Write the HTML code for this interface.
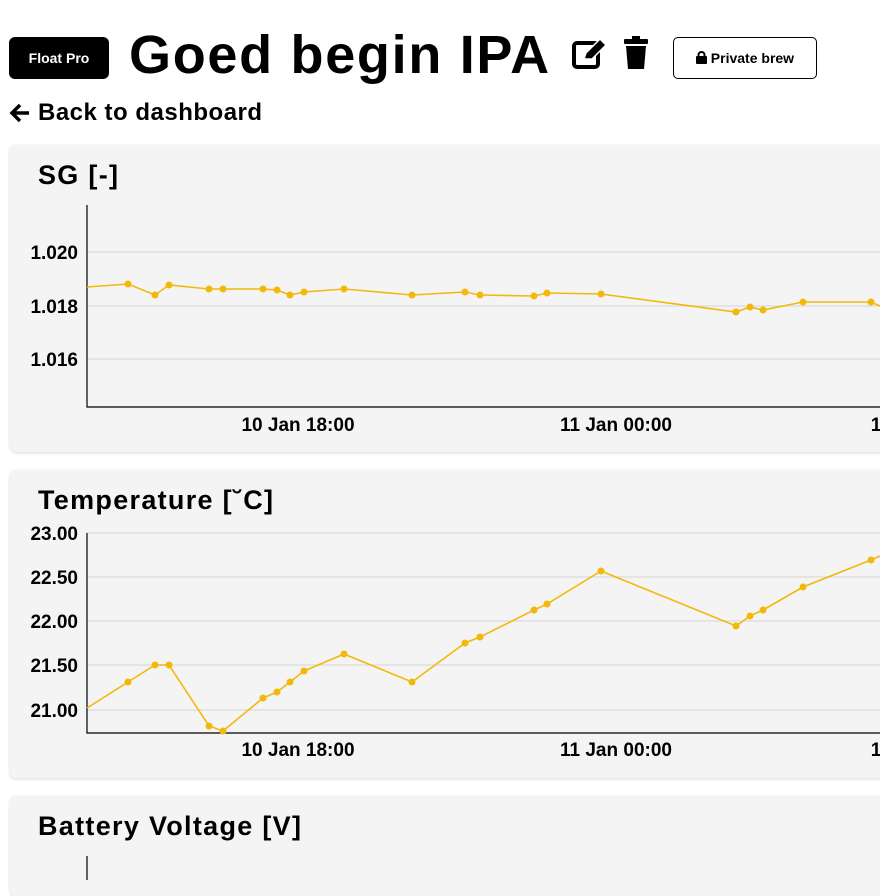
<!DOCTYPE html>
<html><head><meta charset="utf-8"><style>
body{margin:0;width:880px;height:880px;overflow:hidden;background:#fff;font-family:"Liberation Sans",sans-serif;position:relative}
.abs{position:absolute}
.card{position:absolute;left:10px;width:890px;background:#f4f4f4;border-radius:6px;box-shadow:0 1px 3px rgba(0,0,0,.15)}
.ttl{position:absolute;left:38px;font-size:27px;font-weight:bold;letter-spacing:1.3px}
</style></head><body>
<div class="abs" style="left:9px;top:37px;width:100px;height:42px;background:#000;border-radius:6px;color:#fff;font-size:14px;font-weight:bold;line-height:42px;text-align:center">Float Pro</div>
<div class="abs" style="left:129px;top:24px;font-size:54px;font-weight:bold;letter-spacing:1.7px">Goed begin IPA</div>
<svg class="abs" style="left:572px;top:37px" width="36" height="34" viewBox="0 0 36 34"><rect x="2" y="6" width="24" height="24" rx="3" fill="none" stroke="#000" stroke-width="4"/><path d="M12 22 L14 16 L28 2 L34 8 L20 22 Z" fill="#000" stroke="#fff" stroke-width="1.5"/></svg>
<svg class="abs" style="left:622px;top:36px" width="28" height="34" viewBox="0 0 28 34"><rect x="2" y="3" width="24" height="5" rx="1" fill="#000"/><rect x="10" y="0" width="8" height="4" fill="#000"/><path d="M4 10 H24 L22 33 H6 Z" fill="#000"/></svg>
<div class="abs" style="left:673px;top:37px;width:142px;height:40px;border:1px solid #000;border-radius:5px;font-size:14px;font-weight:bold;line-height:40px;text-align:center"><svg width="11" height="13" viewBox="0 0 11 13" style="vertical-align:-1px"><rect x="0" y="5" width="11" height="8" rx="1" fill="#000"/><path d="M2.5 5.5V4a3 3 0 0 1 6 0v1.5" fill="none" stroke="#000" stroke-width="2"/></svg> Private brew</div>
<svg class="abs" style="left:9px;top:103px" width="22" height="20" viewBox="0 0 22 20"><path d="M20 10H4M11 2L3 10L11 18" fill="none" stroke="#000" stroke-width="3.5"/></svg>
<div class="abs" style="left:38px;top:99px;font-size:24px;font-weight:bold;letter-spacing:0.5px">Back to dashboard</div>

<div class="card" style="top:145px;height:307px"></div>
<div class="card" style="top:470px;height:308px"></div>
<div class="card" style="top:796px;height:100px"></div>
<div class="ttl" style="top:160px">SG [-]</div>
<div class="ttl" style="top:485px">Temperature [˘C]</div>
<div class="ttl" style="top:811px">Battery Voltage [V]</div>

<svg class="abs" style="left:0;top:0" width="880" height="880">
<g stroke="#dedede" stroke-width="1.5"><line x1="87" x2="880" y1="252" y2="252"/><line x1="87" x2="880" y1="306" y2="306"/><line x1="87" x2="880" y1="359" y2="359"/>
<line x1="87" x2="880" y1="533" y2="533"/><line x1="87" x2="880" y1="577" y2="577"/><line x1="87" x2="880" y1="621" y2="621"/><line x1="87" x2="880" y1="665" y2="665"/><line x1="87" x2="880" y1="710" y2="710"/></g>
<g stroke="#000" stroke-width="1.2" fill="none"><path d="M87 205V407H880"/><path d="M87 533V733H880"/><path d="M87 856V880"/></g>
<g font-family="Liberation Sans" font-size="19" font-weight="bold" fill="#000">
<g text-anchor="end"><text x="78" y="259">1.020</text><text x="78" y="313">1.018</text><text x="78" y="366">1.016</text>
<text x="78" y="540">23.00</text><text x="78" y="584">22.50</text><text x="78" y="628">22.00</text><text x="78" y="672">21.50</text><text x="78" y="717">21.00</text></g>
<g text-anchor="middle"><text x="298" y="431">10 Jan 18:00</text><text x="616" y="431">11 Jan 00:00</text><text x="876" y="431">1</text>
<text x="298" y="756">10 Jan 18:00</text><text x="616" y="756">11 Jan 00:00</text><text x="876" y="756">1</text></g>
</g>
<g fill="none" stroke="#f2b90c" stroke-width="1.6">
<polyline points="87,287 128,284 155,295 169,285 209,289 223,289 263,289 277,290 290,295 304,292 344,289 412,295 465,292 480,295 534,296 547,293 601,294 736,312 750,307 763,310 803,302 871,302 880,306"/>
<polyline points="87,708 128,682 155,665 169,665 209,726 223,731 263,698 277,692 290,682 304,671 344,654 412,682 465,643 480,637 534,610 547,604 601,571 736,626 750,616 763,610 803,587 871,560 880,556"/>
</g>
<g fill="#f2b90c">
<circle cx="128" cy="284" r="3.5"/><circle cx="155" cy="295" r="3.5"/><circle cx="169" cy="285" r="3.5"/><circle cx="209" cy="289" r="3.5"/><circle cx="223" cy="289" r="3.5"/><circle cx="263" cy="289" r="3.5"/><circle cx="277" cy="290" r="3.5"/><circle cx="290" cy="295" r="3.5"/><circle cx="304" cy="292" r="3.5"/><circle cx="344" cy="289" r="3.5"/><circle cx="412" cy="295" r="3.5"/><circle cx="465" cy="292" r="3.5"/><circle cx="480" cy="295" r="3.5"/><circle cx="534" cy="296" r="3.5"/><circle cx="547" cy="293" r="3.5"/><circle cx="601" cy="294" r="3.5"/><circle cx="736" cy="312" r="3.5"/><circle cx="750" cy="307" r="3.5"/><circle cx="763" cy="310" r="3.5"/><circle cx="803" cy="302" r="3.5"/><circle cx="871" cy="302" r="3.5"/>
<circle cx="128" cy="682" r="3.5"/><circle cx="155" cy="665" r="3.5"/><circle cx="169" cy="665" r="3.5"/><circle cx="209" cy="726" r="3.5"/><circle cx="223" cy="731" r="3.5"/><circle cx="263" cy="698" r="3.5"/><circle cx="277" cy="692" r="3.5"/><circle cx="290" cy="682" r="3.5"/><circle cx="304" cy="671" r="3.5"/><circle cx="344" cy="654" r="3.5"/><circle cx="412" cy="682" r="3.5"/><circle cx="465" cy="643" r="3.5"/><circle cx="480" cy="637" r="3.5"/><circle cx="534" cy="610" r="3.5"/><circle cx="547" cy="604" r="3.5"/><circle cx="601" cy="571" r="3.5"/><circle cx="736" cy="626" r="3.5"/><circle cx="750" cy="616" r="3.5"/><circle cx="763" cy="610" r="3.5"/><circle cx="803" cy="587" r="3.5"/><circle cx="871" cy="560" r="3.5"/>
</g>
</svg>
</body></html>
